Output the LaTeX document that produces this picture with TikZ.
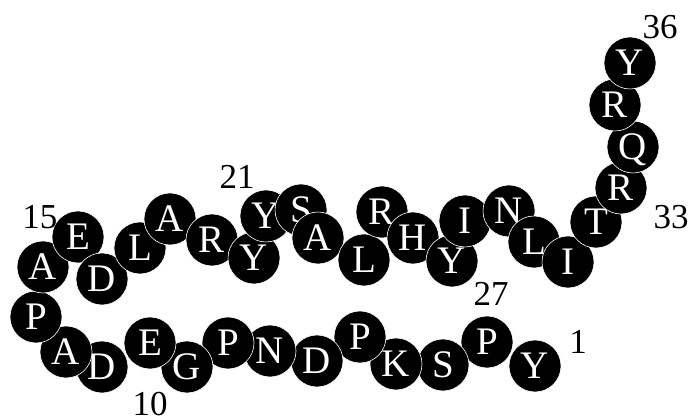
\documentclass[tikz,border=0pt]{standalone}
\usepackage{fontspec}
\setmainfont{Liberation Serif}
\begin{document}
\begin{tikzpicture}[x=1pt,y=-1pt,
  res/.style={circle,fill=black,draw=white,line width=0.6pt,minimum size=52pt,inner sep=0pt,
    text=white,font=\fontsize{39}{39}\selectfont,text height=25.8pt,text depth=0pt},
  num/.style={font=\fontsize{35}{35}\selectfont,text=black,inner sep=0pt}]
\useasboundingbox (0,0) rectangle (689,419);
\foreach \n/\x/\y/\l in {
  1/535/366/Y, 2/487/342/P, 3/443/365/S, 4/396/364/K, 5/360/337/P,
  6/317/361/D, 7/270/351/N, 8/228/343/P, 9/187/367/G, 10/150/343/E,
  11/102/367/D, 12/66/352/A, 13/36/317/P, 14/43/267/A, 15/78/237/E,
  16/102/279/D, 17/140/248/L, 18/170/219/A, 19/212/240/R, 20/254/258/Y,
  21/266/216/Y, 22/301/210/S, 23/318/238/A, 24/364/260/L, 25/382/212/R,
  26/413/238/H, 27/452/261/Y, 28/465/221/I, 29/509/211/N, 30/534/242/L,
  31/568/262/I, 32/596/222/T, 33/621/188/R, 34/633/147/Q, 35/615/105/R,
  36/630/63/Y}
  \node[res] (r\n) at (\x,\y) {\l};
\node[num] (n36) at (660,27) {36};
\node[num] (n33) at (671,217) {33};
\node[num] (n27) at (491,294) {27};
\node[num] (n1) at (578,342) {1};
\node[num] (n10) at (150,404) {10};
\node[num] (n15) at (40,217) {15};
\node[num] (n21) at (237,177) {21};
\end{tikzpicture}
\end{document}
